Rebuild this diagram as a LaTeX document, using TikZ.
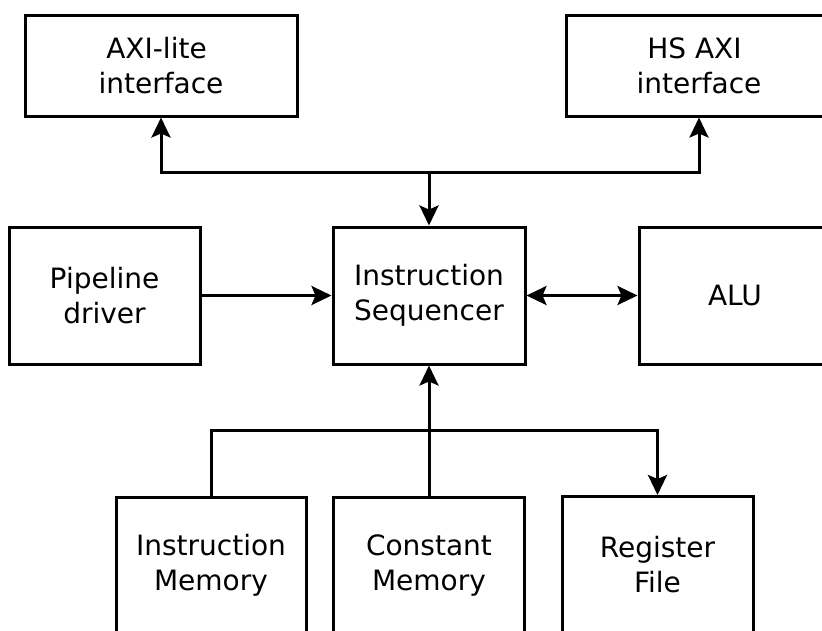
\documentclass[tikz,border=0pt]{standalone}
\usepackage{fontspec}
\setmainfont{DejaVu Sans}
\usetikzlibrary{arrows.meta}
\begin{document}
\begin{tikzpicture}[x=1pt, y=-1pt, line width=3pt,
  >={Stealth[length=20pt,width=19pt,inset=4pt]},
  blk/.style={draw, inner sep=0pt, align=center, minimum height=137pt, minimum width=191pt,
    font=\fontsize{28}{35}\selectfont}]
\clip (0,0) rectangle (822,630);
\node[blk, minimum width=272pt, minimum height=101pt] (axil) at (161,65.5){AXI-lite\hspace*{.32em}\\interface};
\node[blk, minimum width=266pt, minimum height=101pt] (hsaxi) at (699,65.5){HS AXI\hspace*{.32em}\\interface};
\node[blk] (pipe) at (104.5,295.5){Pipeline\\driver};
\node[blk, minimum width=192pt] (seq) at (429,295.5){Instruction\\Sequencer};
\node[blk, minimum width=192pt] (alu) at (735,295.5){ALU};
\node[blk, minimum width=190pt] (imem) at (211,565.5){Instruction\\Memory};
\node[blk] (cmem) at (429,565.5){Constant\\Memory};
\node[blk] (rf) at (657.5,565){Register\\File};
\coordinate (bustop) at (429,172);
\coordinate (busbot) at (429,430.5);
\draw[<->](axil.south) -- (axil.south |- bustop) -- (hsaxi.south |- bustop) -- (hsaxi.south);
\draw[->](bustop) -- (seq.north);
\draw[->](pipe.east) -- (seq.west);
\draw[<->](seq.east) -- (alu.west);
\draw[->](cmem.north) -- (seq.south);
\draw[->](imem.north) -- (imem.north |- busbot) -- (rf.north |- busbot) -- (rf.north);
\end{tikzpicture}
\end{document}
